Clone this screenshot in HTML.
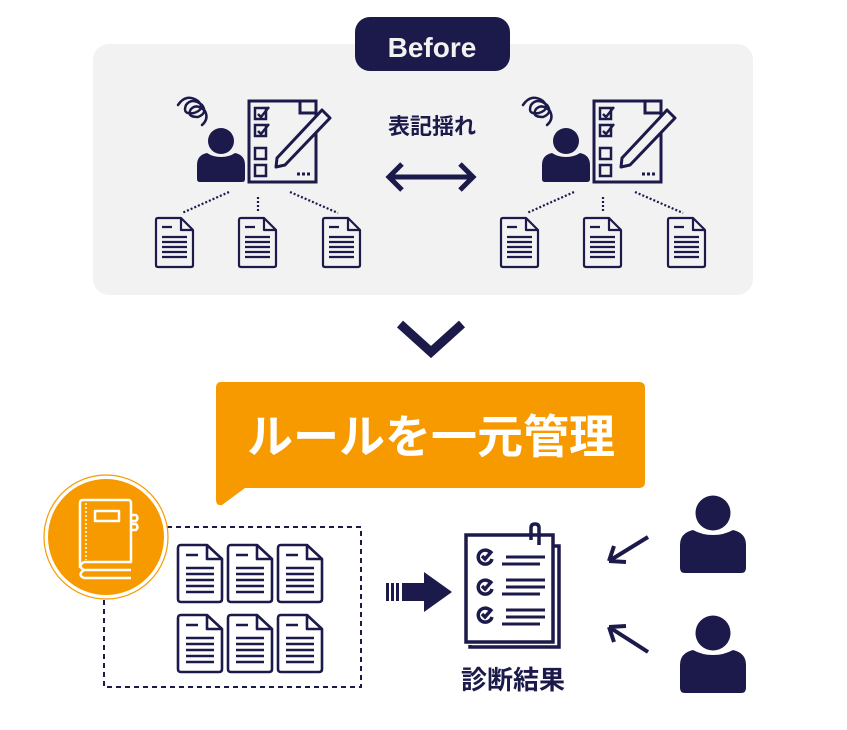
<!DOCTYPE html>
<html><head><meta charset="utf-8"><style>
html,body{margin:0;padding:0;background:#fff;}
svg{display:block;}
text{font-family:"Liberation Sans","Noto Sans CJK JP",sans-serif;font-weight:bold;}
</style></head><body>
<svg width="847" height="730" viewBox="0 0 847 730" xmlns="http://www.w3.org/2000/svg">
<defs>
<g id="doc" fill="none" stroke="#1b1a4a" stroke-width="2.2" stroke-linejoin="round">
  <path d="M3,0 H26 L38,12 V47 Q38,49 36,49 H3 Q1,49 1,47 V2 Q1,0 3,0 Z"/>
  <path d="M26,0 V12 H38"/>
  <path d="M7,9 H17 M7,19 H32 M7,24 H32 M7,29 H32 M7,34 H32 M7,39 H32"/>
</g>
<g id="doc2" fill="none" stroke="#1b1a4a" stroke-width="2.6" stroke-linejoin="round">
  <path d="M3,0 H29 L44,14 V54 Q44,57 41,57 H3 Q0,57 0,54 V3 Q0,0 3,0 Z"/>
  <path d="M29,0 V14 H44"/>
  <path d="M8,10 H20 M8,23 H36 M8,29 H36 M8,35 H36 M8,41 H36 M8,47 H36"/>
</g>
<g id="person" fill="#1b1a4a">
  <circle cx="0" cy="0" r="13"/>
  <path d="M-24,38 V24 Q-24,14 -14,12 Q-8,16 0,16 Q8,16 14,12 Q24,14 24,24 V38 Q24,41 21,41 H-21 Q-24,41 -24,38 Z"/>
</g>
<g id="bigperson" fill="#1b1a4a">
  <circle cx="0" cy="0" r="17.5"/>
  <path d="M-33,55 V32 Q-33,20 -20,17 Q-11,22 0,22 Q11,22 20,17 Q33,20 33,32 V55 Q33,60 28,60 H-28 Q-33,60 -33,55 Z"/>
</g>
<g id="grp">
  <path d="M178,105 q8,-12 20,-4 q8,8 -4,12 q-12,2 -8,-8 q6,-8 16,0 q6,8 -4,12 q-12,0 -7,-8 q6,-6 14,2 q4,8 -3,14" fill="none" stroke="#1b1a4a" stroke-width="2.5" stroke-linecap="round"/>
  <use href="#person" x="221" y="141"/>
  <rect x="249" y="101" width="67" height="81" fill="none" stroke="#1b1a4a" stroke-width="3"/>
  <path d="M300,101 V113 H316" fill="none" stroke="#1b1a4a" stroke-width="3"/>
  <path d="M255,108 H266 V119 H255 Z M255,125 H266 V136 H255 Z" fill="none" stroke="#1b1a4a" stroke-width="2.5"/>
  <path d="M258,114 l3,3 l8,-10 M258,131 l3,3 l8,-10" fill="none" stroke="#1b1a4a" stroke-width="2.5"/>
  <rect x="255" y="148" width="11" height="11" fill="none" stroke="#1b1a4a" stroke-width="2.5"/>
  <rect x="255" y="165" width="11" height="11" fill="none" stroke="#1b1a4a" stroke-width="2.5"/>
  <path d="M297,174 h14" stroke="#1b1a4a" stroke-width="3" stroke-dasharray="3,2"/>
  <path d="M277,158 L322,110 L330,118 L285,165 L276,167 Z" fill="#f2f2f2" stroke="#1b1a4a" stroke-width="3" stroke-linejoin="round"/>
  <path d="M229,192 L182,213 M258,197 V213 M290,192 L338,213" stroke="#1b1a4a" stroke-width="2.2" stroke-dasharray="2,2"/>
  <use href="#doc" x="155" y="218"/>
  <use href="#doc" x="238" y="218"/>
  <use href="#doc" x="322" y="218"/>
</g>
</defs>

<rect x="93" y="44" width="660" height="251" rx="16" fill="#f2f2f2"/>
<rect x="355" y="17" width="155" height="54" rx="15" fill="#1b1a4a"/>
<text x="432" y="57" font-size="28" fill="#f2f2f2" text-anchor="middle">Before</text>

<use href="#grp"/>
<use href="#grp" x="345"/>

<text x="432" y="134" font-size="22" fill="#1b1a4a" text-anchor="middle">表記揺れ</text>
<path d="M392,177 H470" stroke="#1b1a4a" stroke-width="5"/>
<path d="M402,164 L389,177 L402,190 M460,164 L473,177 L460,190" fill="none" stroke="#1b1a4a" stroke-width="5" stroke-linejoin="miter"/>

<path d="M400,324 L431,352 L462,324" fill="none" stroke="#1b1a4a" stroke-width="9"/>

<path d="M221,382 H639 Q645,382 645,388 V482 Q645,488 639,488 H245 L222,505 Q216,506 216,500 V388 Q216,382 221,382 Z" fill="#f79a00"/>
<text x="431" y="453" font-size="46" fill="#fff" text-anchor="middle">ルールを一元管理</text>

<rect x="104" y="527" width="257" height="160" fill="none" stroke="#1b1a4a" stroke-width="2" stroke-dasharray="5,4"/>
<circle cx="106" cy="537" r="62" fill="#fff" stroke="#f79a00" stroke-width="1.2"/>
<circle cx="106" cy="537" r="58" fill="#f79a00"/>
<g fill="none" stroke="#fff" stroke-width="2.5" stroke-linejoin="round">
  <path d="M80,568 V503 Q80,500 83,500 H128 Q131,500 131,503 V562 H84"/>
  <path d="M84,562 Q77,566 84,570 H131 M84,570 Q77,575 84,578 H131"/>
  <path d="M86,503 V560" stroke-dasharray="2,2" stroke-width="1.5"/>
  <rect x="95" y="511" width="24" height="10"/>
  <path d="M131,515 h5 q3,3 0,6 h-5 M131,524 h5 q3,3 0,6 h-5"/>
</g>
<use href="#doc2" x="178" y="545"/>
<use href="#doc2" x="228" y="545"/>
<use href="#doc2" x="278" y="545"/>
<use href="#doc2" x="178" y="615"/>
<use href="#doc2" x="228" y="615"/>
<use href="#doc2" x="278" y="615"/>

<g fill="#1b1a4a">
  <rect x="386" y="583" width="3" height="18"/>
  <rect x="391" y="583" width="3" height="18"/>
  <rect x="396" y="583" width="3" height="18"/>
  <path d="M402,583 H424 V572 L452,592 L424,612 V601 H402 Z"/>
</g>

<g fill="none" stroke="#1b1a4a" stroke-width="3.5">
  <path d="M470,645 V647 H559 V546 H553"/>
  <rect x="466" y="535" width="87" height="107" fill="#fff"/>
  <path d="M531,540 V528 Q531,524 535,524 Q539,524 539,528 V545"/>
  <path d="M490,552 a7,7 0 1 0 2,7 M482,556 l3,3 l7,-8"/>
  <path d="M490,582 a7,7 0 1 0 2,7 M482,586 l3,3 l7,-8"/>
  <path d="M490,610 a7,7 0 1 0 2,7 M482,614 l3,3 l7,-8"/>
  <path d="M506,557 H545 M502,564 H540 M506,580 H545 M506,587 H545 M502,594 H540 M506,610 H545 M506,617 H545 M502,624 H540" stroke-width="3"/>
</g>
<text x="513" y="689" font-size="26" fill="#1b1a4a" text-anchor="middle">診断結果</text>

<g stroke="#1b1a4a" stroke-width="4" fill="none">
  <path d="M648,537 L609,561 M609,561 L614,546 M609,561 L626,562"/>
  <path d="M648,652 L609,627 M609,627 L626,626 M609,627 L614,642"/>
</g>
<use href="#bigperson" x="713" y="513"/>
<use href="#bigperson" x="713" y="633"/>
</svg>
</body></html>
